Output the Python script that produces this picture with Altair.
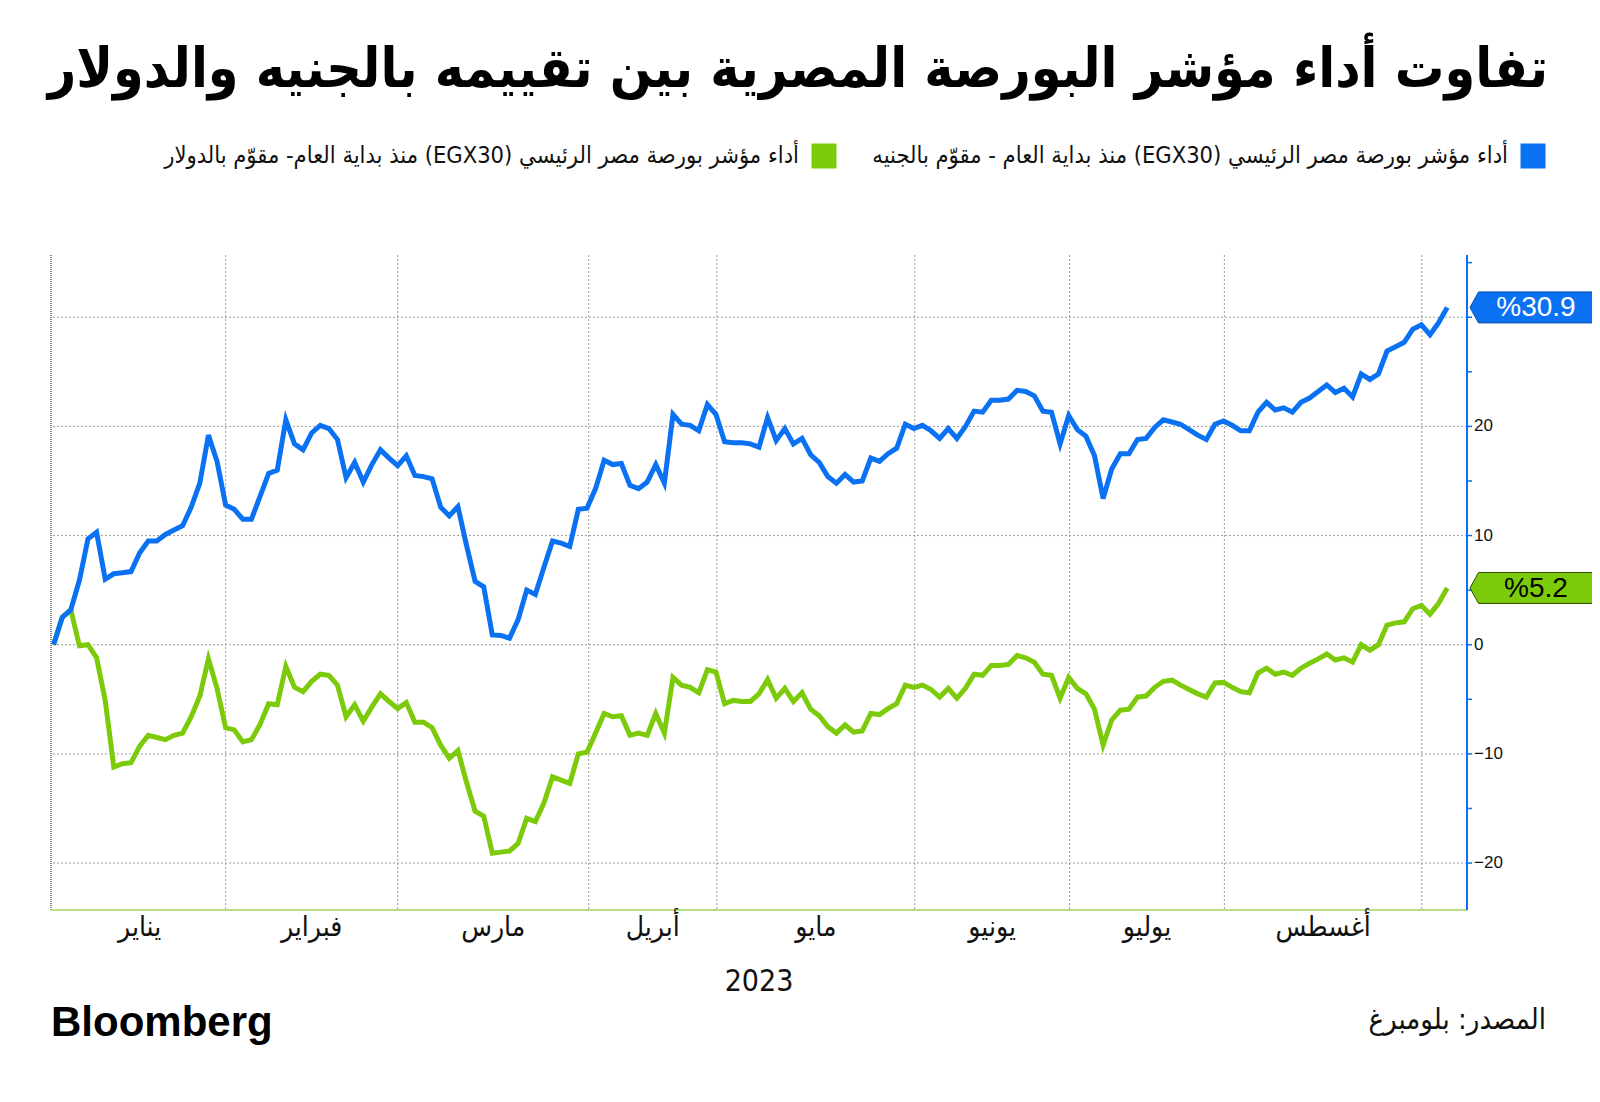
import altair as alt
import pandas as pd

# ---------------- data ----------------
blue_egp = [
    0.0, 2.5, 3.2, 5.9, 9.7, 10.3, 6.0, 6.5, 6.6, 6.7,
    8.4, 9.5, 9.5, 10.1, 10.5, 10.9, 12.6, 14.8, 19.2, 16.8,
    12.8, 12.4, 11.5, 11.5, 13.6, 15.7, 16.0, 20.6, 18.4, 17.85,
    19.4, 20.1, 19.8, 18.8, 15.3, 16.7, 14.9, 16.5, 17.85, 17.1,
    16.4, 17.3, 15.5, 15.4, 15.2, 12.6, 11.8, 12.65, 9.1, 5.8,
    5.3, 0.9, 0.85, 0.6, 2.3, 5.0, 4.6, 7.1, 9.5, 9.3,
    9.0, 12.4, 12.5, 14.3, 16.9, 16.5, 16.6, 14.6, 14.3, 14.9,
    16.5, 14.8, 21.1, 20.2, 20.1, 19.6, 22.0, 21.1, 18.6, 18.5,
    18.5, 18.4, 18.1, 20.8, 18.7, 19.8, 18.4, 18.9, 17.4, 16.7,
    15.4, 14.8, 15.6, 14.9, 15.0, 17.1, 16.8, 17.5, 18.0, 20.2,
    19.8, 20.1, 19.6, 18.9, 19.8, 18.9, 20.0, 21.4, 21.3, 22.4,
    22.4, 22.5, 23.3, 23.2, 22.8, 21.4, 21.3, 18.4, 21.0, 19.7,
    19.1, 17.3, 13.4, 16.1, 17.5, 17.5, 18.8, 18.9, 19.9, 20.6,
    20.4, 20.2, 19.7, 19.2, 18.8, 20.2, 20.5, 20.1, 19.6, 19.6,
    21.3, 22.2, 21.5, 21.7, 21.3, 22.2, 22.6, 23.2, 23.8, 23.1,
    23.5, 22.7, 24.8, 24.3, 24.8, 26.9, 27.3, 27.7, 28.9, 29.3,
    28.4, 29.5, 30.9,
]

green_usd = [
    0.0, 2.5, 3.2, -0.1, 0.0, -1.2, -5.1, -11.2, -10.9, -10.8,
    -9.3, -8.3, -8.5, -8.7, -8.3, -8.1, -6.6, -4.7, -1.3, -4.0,
    -7.6, -7.8, -8.9, -8.7, -7.3, -5.4, -5.5, -2.0, -3.9, -4.3,
    -3.35, -2.7, -2.8, -3.7, -6.6, -5.5, -7.0, -5.7, -4.5, -5.2,
    -5.85, -5.3, -7.1, -7.1, -7.6, -9.2, -10.4, -9.7, -12.6, -15.25,
    -15.7, -19.1, -19.0, -18.9, -18.2, -15.9, -16.2, -14.5, -12.1, -12.4,
    -12.7, -10.0, -9.85, -8.1, -6.3, -6.6, -6.5, -8.3, -8.1, -8.3,
    -6.3, -8.1, -3.0, -3.7, -3.9, -4.4, -2.3, -2.5, -5.4, -5.1,
    -5.2, -5.2, -4.5, -3.2, -4.9, -4.0, -5.2, -4.4, -5.9, -6.5,
    -7.5, -8.1, -7.35, -8.0, -7.9, -6.3, -6.4, -5.85, -5.4, -3.7,
    -3.9, -3.7, -4.1, -4.8, -4.0, -4.9, -4.0, -2.7, -2.8, -1.9,
    -1.9, -1.8, -1.0, -1.2, -1.6, -2.7, -2.8, -4.9, -3.0, -4.0,
    -4.5, -5.9, -9.2, -6.9, -6.0, -5.9, -4.8, -4.7, -3.9, -3.35,
    -3.25, -3.7, -4.1, -4.5, -4.8, -3.5, -3.45, -3.9, -4.3, -4.4,
    -2.6, -2.15, -2.7, -2.5, -2.8, -2.15, -1.7, -1.3, -0.85, -1.4,
    -1.2, -1.6, 0.0, -0.5, 0.0, 1.8, 2.0, 2.1, 3.3, 3.6,
    2.8, 3.8, 5.2,
]

days = list(range(len(blue_egp)))

month_names = ["يناير", "فبراير", "مارس", "أبريل", "مايو", "يونيو", "يوليو", "أغسطس"]
month_bounds = [0, 20, 40, 62.2, 77.1, 100.1, 118.1, 136.1, 159.05]  # trading-day index of month starts
grid_values = [30, 20, 10, 0, -10, -20]
tick_values = [-20, -15, -10, -5, 0, 5, 10, 15, 20, 25, 30, 35]
label_values = [20, 10, 0, -10, -20]

title_text = "تفاوت أداء مؤشر البورصة المصرية بين تقييمه بالجنيه والدولار"
legend_blue = "أداء مؤشر بورصة مصر الرئيسي (EGX30) منذ بداية العام - مقوّم بالجنيه"
legend_green = "أداء مؤشر بورصة مصر الرئيسي (EGX30) منذ بداية العام- مقوّم بالدولار"
source_text = "المصدر: بلومبرغ"
year_text = "2023"
brand_text = "Bloomberg"

# ---------------- styling ----------------
BLUE = "#0a72f2"
GREEN = "#7ccb0a"
W, H = 1416, 655
X_DOMAIN = [-0.3, 164.3]
Y_DOMAIN = [-24.3, 35.7]
AR_FONT = "'DejaVu Sans Condensed', 'DejaVu Sans', sans-serif"
LAT_FONT = "'Liberation Sans', Arial, sans-serif"
RLE, PDF = "\u202b", "\u202c"

xs = alt.Scale(domain=X_DOMAIN, nice=False, zero=False)
ys = alt.Scale(domain=Y_DOMAIN, nice=False, zero=False)

blue_df = pd.DataFrame({"day": days, "value": blue_egp})
green_df = pd.DataFrame({"day": days, "value": green_usd})

# horizontal grid
hgrid = alt.Chart(pd.DataFrame({"v": grid_values})).mark_rule(
    color="#9c9c9c", strokeDash=[2, 2], strokeWidth=1
).encode(y=alt.Y("v:Q", scale=ys, axis=None))

# vertical grid at month starts
vgrid = alt.Chart(pd.DataFrame({"d": month_bounds[1:]})).mark_rule(
    color="#9c9c9c", strokeDash=[2, 2], strokeWidth=1
).encode(x=alt.X("d:Q", scale=xs, axis=None))

left_edge = alt.Chart(pd.DataFrame({"d": [0]})).mark_rule(
    color="#444444", strokeDash=[1, 1], strokeWidth=1.3
).encode(x=alt.value(0))

bottom_edge = alt.Chart(pd.DataFrame({"d": [0]})).mark_rule(
    color="#b9df85", strokeWidth=2
).encode(y=alt.value(H))

# right-hand value axis (domain, ticks, labels)
axis_domain = alt.Chart(pd.DataFrame({"d": [0]})).mark_rule(
    color=BLUE, strokeWidth=2
).encode(x=alt.value(W))
axis_ticks = alt.Chart(pd.DataFrame({"v": tick_values})).mark_rule(
    color=BLUE, strokeWidth=1.5
).encode(y=alt.Y("v:Q", scale=ys, axis=None), x=alt.value(W), x2=alt.value(W + 5))
axis_labels = alt.Chart(pd.DataFrame({"v": label_values})).mark_text(
    font=LAT_FONT, fontSize=17, color="#111111", align="left", baseline="middle"
).encode(y=alt.Y("v:Q", scale=ys, axis=None), x=alt.value(W + 7), text="v:Q")

green_line = alt.Chart(green_df).mark_line(
    color=GREEN, strokeWidth=5, strokeJoin="miter"
).encode(
    x=alt.X("day:Q", scale=xs, axis=None),
    y=alt.Y("value:Q", scale=ys, axis=None),
)

blue_line = alt.Chart(blue_df).mark_line(
    color=BLUE, strokeWidth=5, strokeJoin="miter"
).encode(
    x=alt.X("day:Q", scale=xs, axis=None),
    y=alt.Y("value:Q", scale=ys, axis=None),
)

# end-value tags
tag_path = "M0,0 L0.55,-1 L9,-1 L9,1 L0.55,1 Z"
tag_df = pd.DataFrame({
    "series": ["blue", "green"],
    "value": [blue_egp[-1], green_usd[-1]],
})
tag_df["label"] = tag_df["value"].map(lambda v: "%" + format(v, ".1f"))


def tag(series, fill, stroke, text_color):
    d = tag_df[tag_df["series"] == series]
    shape = alt.Chart(d).mark_point(
        shape=tag_path, size=961, filled=True, fill=fill, stroke=stroke,
        strokeWidth=1, opacity=1
    ).encode(x=alt.value(W + 3), y=alt.Y("value:Q", scale=ys, axis=None))
    txt = alt.Chart(d).mark_text(
        font=LAT_FONT, fontSize=28, color=text_color, align="center", baseline="middle", dy=1
    ).encode(x=alt.value(W + 69), y=alt.Y("value:Q", scale=ys, axis=None), text="label:N")
    return shape + txt


blue_tag = tag("blue", BLUE, "#0b4fa8", "white")
green_tag = tag("green", GREEN, "#2f4d00", "black")

# month labels
mids = [(month_bounds[i] + month_bounds[i + 1]) / 2 for i in range(len(month_names))]
month_df = pd.DataFrame({"mid": mids, "name": month_names})
months = alt.Chart(month_df).mark_text(
    font=AR_FONT, fontSize=28, color="#111111", align="center", baseline="middle"
).encode(x=alt.X("mid:Q", scale=xs, axis=None), y=alt.value(673), text="name:N")


def label(text, x, y, **kw):
    return alt.Chart(pd.DataFrame({"t": [text]})).mark_text(**kw).encode(
        x=alt.value(x), y=alt.value(y), text="t:N"
    )


title = label(title_text, 1497, -168, font=AR_FONT, fontSize=55, fontWeight="bold",
              color="#000000", align="right", baseline="alphabetic")
leg_blue_sq = alt.Chart(pd.DataFrame({"t": [0]})).mark_square(
    size=625, color=BLUE, opacity=1
).encode(x=alt.value(1482), y=alt.value(-99))
leg_green_sq = alt.Chart(pd.DataFrame({"t": [0]})).mark_square(
    size=625, color=GREEN, opacity=1
).encode(x=alt.value(773), y=alt.value(-99))
leg_blue_txt = label(RLE + legend_blue + PDF, 1457, -99, font=AR_FONT, fontSize=23.5,
                     color="#111111", align="right", baseline="middle")
leg_green_txt = label(RLE + legend_green + PDF, 748, -99, font=AR_FONT, fontSize=23.5,
                      color="#111111", align="right", baseline="middle")
year = label(year_text, W / 2, 727, font="'Liberation Sans Narrow', 'DejaVu Sans Condensed', sans-serif",
             fontSize=30, color="#111111", align="center", baseline="middle")
brand = label(brand_text, 0, 768, font=LAT_FONT, fontSize=42, fontWeight="bold",
              color="#000000", align="left", baseline="middle")
source = label(source_text, 1495, 765, font=AR_FONT, fontSize=29, color="#111111",
               align="right", baseline="middle")

chart = alt.layer(
    hgrid, vgrid, left_edge, bottom_edge, green_line, blue_line,
    axis_domain, axis_ticks, axis_labels,
    blue_tag, green_tag, months,
    title, leg_blue_sq, leg_green_sq, leg_blue_txt, leg_green_txt,
    year, brand, source,
).properties(
    width=W,
    height=H,
    padding={"left": 43, "top": 247, "right": 125, "bottom": 178},
    autosize=alt.AutoSizeParams(type="none"),
    background="white",
).configure_view(stroke=None)

chart.save("out.html", embed_options={"renderer": "svg", "actions": False})
